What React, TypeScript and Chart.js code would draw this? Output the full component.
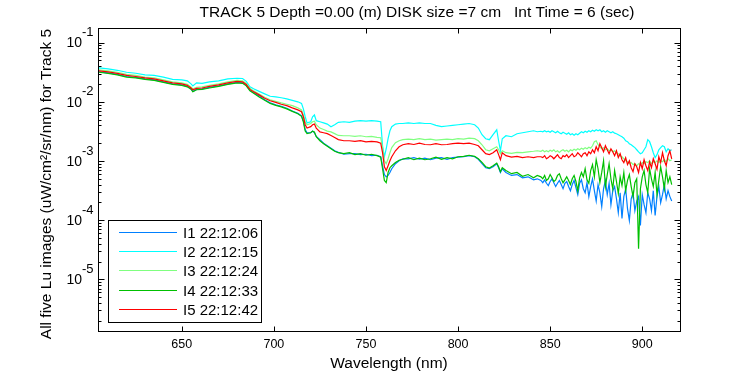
import React, { useEffect, useRef } from "react";
import { Chart, registerables } from "chart.js";

Chart.register(...registerables);

const TITLE = "TRACK 5 Depth =0.00 (m) DISK size =7 cm   Int Time = 6 (sec)";
const X_TITLE = "Wavelength (nm)";
const Y_TITLE = "All five Lu images (uW/cm²/sr/nm) for Track 5";
const X_TICKS = [650, 700, 750, 800, 850, 900];
const Y_TICK_EXPONENTS = [-6, -5, -4, -3, -2, -1];
const X_MIN = 604.5;
const X_MAX = 920.5;
const Y_MIN = 1.34e-6;
const Y_MAX = 0.17;

const SERIES_LABELS = ["I1 22:12:06", "I2 22:12:15", "I3 22:12:24", "I4 22:12:33", "I5 22:12:42"];
const SERIES_COLORS = ["#0080ff", "#00ffff", "#80ff80", "#00c000", "#ff0000"];

const WAVELENGTH = [
  605, 610, 615, 620, 625, 630, 635, 640, 645, 650, 653, 655, 656, 658, 661, 665, 670, 675, 680, 683, 685, 687, 689, 692, 695, 698,
  701, 704, 707, 710, 713, 715, 716, 717, 718, 720, 721, 722, 723, 725, 727, 729, 731, 733, 735, 738, 741, 744, 747, 750, 753, 756, 758,
  759, 760, 761, 762, 763, 764, 766, 768, 770,
  773, 776, 779, 782, 785, 788, 791, 794, 797, 800, 803, 806, 809, 811, 813, 815, 817, 819, 821, 822, 823, 824, 826, 829, 832, 835, 838, 841, 843,
  845, 846, 847, 848, 849, 850, 851, 852, 853, 854, 855, 856,
  857, 858, 859, 860, 861, 862, 863, 864, 865, 866, 867, 868,
  869, 870, 871, 872, 873, 874, 875, 876, 877, 878, 879, 880,
  881, 882, 883, 884, 885, 886, 887, 888, 889, 890, 891, 892,
  893, 894, 895, 896, 897, 898, 899, 900, 901, 902, 903, 904,
  905, 906, 907, 908, 909, 910, 911, 912, 913, 914, 915, 916,
];

const I1 = [
  0.0321, 0.0308, 0.0291, 0.0268, 0.0258, 0.0244, 0.0235, 0.0217, 0.0201, 0.0193, 0.0182, 0.0166, 0.015, 0.0162, 0.0166, 0.0175, 0.0186, 0.0201, 0.0213, 0.0209, 0.019, 0.0156, 0.0142, 0.0126, 0.0108, 0.0096,
  0.0089, 0.0084, 0.0078, 0.007, 0.0064, 0.0058, 0.0048, 0.0034, 0.003, 0.003, 0.0032, 0.003, 0.0026, 0.0023, 0.002, 0.00181, 0.00164, 0.00149, 0.0014, 0.0013, 0.00133, 0.00133, 0.00128, 0.0013, 0.00123, 0.00125, 0.00118,
  0.00083, 0.00059, 0.00054, 0.00057, 0.00064, 0.00074, 0.0009, 0.00101, 0.00109,
  0.00109, 0.00114, 0.00107, 0.00112, 0.00105, 0.00112, 0.00114, 0.00107, 0.00114, 0.00116, 0.00118, 0.00123, 0.00118, 0.00107, 0.0009, 0.00077, 0.00074, 0.0008, 0.0009, 0.00077, 0.00064, 0.00074, 0.00064, 0.00057, 0.00059, 0.00052, 0.00054, 0.00048, 0.0005,
  4.7e-4, 4.3e-4, 4.8e-4, 4.2e-4, 3.85e-4, 4.5e-4, 5.0e-4, 4.3e-4, 3.7e-4, 4.2e-4, 4.7e-4, 4.0e-4,
  3.4e-4, 4.2e-4, 4.5e-4, 3.7e-4, 3.15e-4, 4.0e-4, 4.7e-4, 3.55e-4, 2.7e-4, 4.2e-4, 4.8e-4, 3.4e-4,
  2.9e-4, 4.3e-4, 2.5e-4, 3.7e-4, 5.0e-4, 3.15e-4, 2.1e-4, 4.0e-4, 2.9e-4, 1.69e-4, 3.4e-4, 4.7e-4,
  2.7e-4, 4.2e-4, 1.83e-4, 3.15e-4, 3.7e-4, 2.3e-4, 1.34e-4, 2.9e-4, 1.07e-4, 2.5e-4, 3.4e-4, 1.57e-4,
  9.9e-5, 2.3e-4, 2.9e-4, 1.45e-4, 2.1e-4, 2.5e-4, 8.1e-5, 2.7e-4, 1.83e-4, 1.34e-4, 2.9e-4, 2.3e-4,
  1.45e-4, 3.15e-4, 1.2e-4, 2.5e-4, 3.7e-4, 1.98e-4, 2.7e-4, 4.0e-4, 2.3e-4, 3.15e-4, 2.5e-4, 2.1e-4,
];

const I2 = [
  0.0374, 0.036, 0.0341, 0.0316, 0.0304, 0.0285, 0.028, 0.0261, 0.0239, 0.0235, 0.0226, 0.0201, 0.0186, 0.0209, 0.0205, 0.0217, 0.0226, 0.0244, 0.025, 0.0248, 0.0222, 0.0179, 0.0166, 0.015, 0.0136, 0.0124,
  0.0121, 0.0117, 0.0112, 0.0106, 0.01, 0.0094, 0.0076, 0.0056, 0.0044, 0.0046, 0.0056, 0.006, 0.0048, 0.0046, 0.0044, 0.0042, 0.0038, 0.0041, 0.0045, 0.0046, 0.0045, 0.0047, 0.0048, 0.0047, 0.0048, 0.0047, 0.0046,
  0.00181, 0.00118, 0.00161, 0.00238, 0.00324, 0.0038, 0.0042, 0.0043, 0.0043,
  0.0044, 0.0043, 0.0044, 0.0043, 0.0043, 0.004, 0.0038, 0.0039, 0.004, 0.0041, 0.0042, 0.0043, 0.0041, 0.0036, 0.00278, 0.00238, 0.00229, 0.00278, 0.00337, 0.0022, 0.00149, 0.00238, 0.00267, 0.00257, 0.00289, 0.003, 0.00312, 0.00324, 0.00312,
  0.00318, 0.00312, 0.00324, 0.00312, 0.00318, 0.00306, 0.00324, 0.00312, 0.003, 0.00318, 0.003, 0.00289,
  0.00306, 0.00295, 0.00284, 0.003, 0.00278, 0.00289, 0.00272, 0.00289, 0.00278, 0.00295, 0.00312, 0.003,
  0.00318, 0.00306, 0.00324, 0.00312, 0.0033, 0.00318, 0.00337, 0.00324, 0.00337, 0.00312, 0.00324, 0.00306,
  0.00324, 0.00312, 0.003, 0.00312, 0.00295, 0.00289, 0.00278, 0.00267, 0.00257, 0.00243, 0.0022, 0.00212,
  0.00196, 0.00188, 0.00178, 0.00168, 0.00155, 0.00143, 0.00133, 0.00138, 0.00155, 0.00174, 0.00229, 0.00212,
  0.00174, 0.00138, 0.00114, 0.00128, 0.00155, 0.00168, 0.00181, 0.00174, 0.00143, 0.00161, 0.00149, 0.00155,
];

const I3 = [
  0.0347, 0.0334, 0.0316, 0.0291, 0.028, 0.0261, 0.0254, 0.0235, 0.0217, 0.0209, 0.0197, 0.0179, 0.0166, 0.0175, 0.0179, 0.019, 0.0201, 0.0217, 0.0231, 0.0226, 0.0205, 0.0169, 0.0153, 0.0136, 0.0119, 0.0108,
  0.0102, 0.0096, 0.0091, 0.0086, 0.0079, 0.0073, 0.006, 0.0046, 0.0041, 0.0043, 0.0046, 0.0047, 0.0041, 0.0036, 0.0034, 0.0032, 0.0031, 0.0029, 0.0027, 0.00267, 0.00267, 0.0026, 0.00267, 0.00257, 0.0026, 0.0025, 0.00247,
  0.00168, 0.00101, 0.0009, 0.00109, 0.00138, 0.00168, 0.00204, 0.0022, 0.00229,
  0.00234, 0.00229, 0.00238, 0.00229, 0.00234, 0.00225, 0.00229, 0.00234, 0.00229, 0.00238, 0.00234, 0.00243, 0.00238, 0.0022, 0.00188, 0.00155, 0.00149, 0.00161, 0.00174, 0.00155, 0.00133, 0.00149, 0.00138, 0.00135, 0.0014, 0.00138, 0.00143, 0.00146, 0.00149,
  0.00146, 0.00152, 0.00143, 0.00149, 0.00143, 0.00152, 0.00146, 0.00155, 0.00143, 0.00149, 0.0014, 0.00149,
  0.00155, 0.00146, 0.00152, 0.00143, 0.00155, 0.00149, 0.00158, 0.00152, 0.00161, 0.00155, 0.00165, 0.00158,
  0.00168, 0.00161, 0.00171, 0.00165, 0.00181, 0.00212, 0.0022, 0.00188, 0.00174, 0.00161, 0.00168, 0.00155,
  0.00161, 0.00149, 0.00155, 0.00143, 0.00149, 0.00138, 0.00133, 0.00123, 0.00118, 0.00109, 0.00101, 0.00097,
  0.0009, 0.00094, 0.00087, 0.0009, 0.00083, 0.0009, 0.00087, 0.00094, 0.0009, 0.00097, 0.00094, 0.00101,
  0.0009, 0.00097, 0.00094, 0.00101, 0.00094, 0.00101, 0.00097, 0.00105, 0.00097, 0.00109, 0.00101, 0.00105,
];

const I4 = [
  0.0316, 0.0303, 0.0285, 0.0261, 0.0254, 0.0239, 0.023, 0.0213, 0.0197, 0.019, 0.0179, 0.0163, 0.0148, 0.016, 0.0162, 0.0171, 0.0182, 0.0197, 0.0209, 0.0205, 0.0186, 0.0153, 0.014, 0.0121, 0.0106, 0.0094,
  0.0087, 0.0082, 0.0076, 0.0069, 0.0063, 0.0057, 0.0046, 0.0032, 0.0029, 0.003, 0.0032, 0.0031, 0.00257, 0.0022, 0.00196, 0.00178, 0.00161, 0.00146, 0.00138, 0.00133, 0.00138, 0.00128, 0.00133, 0.00125, 0.0013, 0.00123, 0.00116,
  0.00074, 0.00047, 0.00043, 0.00064, 0.00077, 0.00083, 0.00094, 0.00103, 0.00107,
  0.00114, 0.00105, 0.00112, 0.00105, 0.00109, 0.00116, 0.00107, 0.00114, 0.00109, 0.00118, 0.0012, 0.00125, 0.0012, 0.00109, 0.00095, 0.0008, 0.00076, 0.00083, 0.00092, 0.0008, 0.00066, 0.00077, 0.00069, 0.00061, 0.00064, 0.00055, 0.00059, 0.00052, 0.00057,
  5.4e-4, 5.0e-4, 5.7e-4, 4.7e-4, 5.0e-4, 5.9e-4, 5.2e-4, 4.5e-4, 4.8e-4, 5.7e-4, 6.1e-4, 5.0e-4,
  4.3e-4, 4.8e-4, 5.4e-4, 4.7e-4, 4.0e-4, 5.0e-4, 5.7e-4, 4.5e-4, 3.15e-4, 5.2e-4, 6.4e-4, 5.4e-4,
  7.4e-4, 4.8e-4, 4.2e-4, 6.9e-4, 8.7e-4, 5.4e-4, 1.05e-3, 7.4e-4, 4.3e-4, 6.4e-4, 1.01e-3, 3.7e-4,
  5.9e-4, 9.0e-4, 5.0e-4, 3.4e-4, 6.9e-4, 4.5e-4, 2.8e-4, 5.4e-4, 3.85e-4, 6.4e-4, 3.15e-4, 4.7e-4,
  5.9e-4, 3.7e-4, 2.5e-4, 4.3e-4, 5.0e-4, 3.3e-5, 3.4e-4, 5.4e-4, 6.9e-4, 4.0e-4, 2.9e-4, 7.4e-4,
  5.0e-4, 3.7e-4, 6.4e-4, 2.7e-4, 4.7e-4, 8.0e-4, 5.4e-4, 3.4e-4, 6.9e-4, 4.3e-4, 5.4e-4, 4.0e-4,
];

const I5 = [
  0.0334, 0.0321, 0.0303, 0.028, 0.0268, 0.0254, 0.0244, 0.0226, 0.0209, 0.0201, 0.019, 0.0171, 0.016, 0.0169, 0.0171, 0.0182, 0.0193, 0.0209, 0.0222, 0.0217, 0.0196, 0.0162, 0.0148, 0.0131, 0.0115, 0.0104,
  0.0098, 0.0091, 0.0086, 0.0079, 0.0073, 0.0068, 0.0056, 0.0041, 0.0036, 0.0038, 0.0041, 0.0042, 0.0036, 0.0031, 0.003, 0.0029, 0.0027, 0.0025, 0.0023, 0.0022, 0.0022, 0.00215, 0.0022, 0.0021, 0.00215, 0.0021, 0.002,
  0.00138, 0.0008, 0.00069, 0.00083, 0.00101, 0.00118, 0.00149, 0.00174, 0.00188,
  0.00196, 0.0019, 0.002, 0.0019, 0.00188, 0.00196, 0.00188, 0.0019, 0.00196, 0.002, 0.00196, 0.002, 0.0019, 0.00181, 0.00155, 0.00133, 0.00128, 0.00138, 0.00155, 0.00128, 0.00105, 0.00138, 0.00123, 0.00116, 0.0012, 0.00114, 0.00118, 0.00114, 0.00118,
  0.00118, 0.00114, 0.00123, 0.00109, 0.00114, 0.00123, 0.00118, 0.00109, 0.00118, 0.00128, 0.00114, 0.00109,
  0.00123, 0.00118, 0.00128, 0.00114, 0.00123, 0.00133, 0.00118, 0.00123, 0.00138, 0.00128, 0.00118, 0.00133,
  0.00138, 0.00123, 0.00143, 0.00133, 0.00155, 0.00138, 0.00174, 0.00149, 0.00196, 0.00168, 0.00143, 0.00181,
  0.00155, 0.00133, 0.00161, 0.00143, 0.00123, 0.00149, 0.00114, 0.00133, 0.00105, 0.00094, 0.00114, 0.00087,
  0.00101, 0.00077, 0.00066, 0.0009, 0.0008, 0.00064, 0.00094, 0.00074, 0.00105, 0.00083, 0.00069, 0.00097,
  0.00077, 0.00109, 0.0009, 0.00072, 0.00118, 0.00094, 0.00138, 0.00101, 0.00083, 0.00123, 0.00149, 0.00109,
];

const SERIES = [I1, I2, I3, I4, I5];
const MINOR_MULTIPLIERS = [2, 3, 4, 5, 6, 7, 8, 9];
const FONT = "'Liberation Sans', Arial, Helvetica, sans-serif";

const matlabAxes = {
  id: "matlabAxes",
  afterDraw(chart: any) {
    const { ctx, chartArea: a, scales } = chart;
    const xs = scales.x;
    const ys = scales.y;
    const L = a.left + 0.5;
    const R = a.right + 0.5;
    const T = a.top - 0.5;
    const B = a.bottom + 0.5;
    ctx.save();
    ctx.strokeStyle = "#000";
    ctx.lineWidth = 1;
    ctx.strokeRect(L, T, R - L, B - T);

    ctx.beginPath();
    X_TICKS.forEach((v) => {
      const px = Math.round(xs.getPixelForValue(v)) + 0.5;
      ctx.moveTo(px, B);
      ctx.lineTo(px, B - 5);
      ctx.moveTo(px, T);
      ctx.lineTo(px, T + 5);
    });
    Y_TICK_EXPONENTS.forEach((e) => {
      [1, ...MINOR_MULTIPLIERS].forEach((m) => {
        const v = m * Math.pow(10, e);
        if (v < Y_MIN || v > Y_MAX) return;
        const py = Math.round(ys.getPixelForValue(v)) + 0.5;
        const len = m === 1 ? 6 : 3;
        ctx.moveTo(L, py);
        ctx.lineTo(L + len, py);
        ctx.moveTo(R, py);
        ctx.lineTo(R - len, py);
      });
    });
    ctx.stroke();

    ctx.fillStyle = "#000";
    ctx.font = `12.5px ${FONT}`;
    ctx.textAlign = "center";
    ctx.textBaseline = "middle";
    X_TICKS.forEach((v) => {
      ctx.fillText(String(v), xs.getPixelForValue(v), a.bottom + 14);
    });

    Y_TICK_EXPONENTS.forEach((e) => {
      const v = Math.pow(10, e);
      if (v < Y_MIN || v > Y_MAX) return;
      const py = ys.getPixelForValue(v);
      ctx.font = `14px ${FONT}`;
      ctx.textAlign = "right";
      ctx.textBaseline = "middle";
      ctx.fillText("10", a.left - 16, py + 1);
      ctx.font = `13px ${FONT}`;
      ctx.textAlign = "left";
      ctx.fillText(String(e), a.left - 16, py - 10);
    });

    ctx.font = `15.5px ${FONT}`;
    ctx.textAlign = "center";
    ctx.textBaseline = "middle";
    ctx.fillText(TITLE, 417, 12.5);
    ctx.fillText(X_TITLE, (a.left + a.right) / 2, 364);
    ctx.save();
    ctx.translate(47, 184);
    ctx.rotate(-Math.PI / 2);
    ctx.fillText(Y_TITLE, 0, 0);
    ctx.restore();

    const lx = 108.5, ly = 220.5, lw = 153, lh = 102;
    ctx.fillStyle = "#fff";
    ctx.fillRect(lx, ly, lw, lh);
    ctx.strokeStyle = "#000";
    ctx.strokeRect(lx, ly, lw, lh);
    ctx.font = `15px ${FONT}`;
    ctx.textAlign = "left";
    ctx.textBaseline = "middle";
    chart.data.datasets.forEach((ds: any, i: number) => {
      const ry = Math.round(232 + i * 19.2) + 0.5;
      ctx.strokeStyle = ds.borderColor;
      ctx.beginPath();
      ctx.moveTo(119, ry);
      ctx.lineTo(177, ry);
      ctx.stroke();
      ctx.fillStyle = "#000";
      ctx.fillText(ds.label, 183, ry + 1);
    });
    ctx.restore();
  },
};

export default function App() {
  const ref = useRef<HTMLCanvasElement>(null);
  useEffect(() => {
    document.body.style.margin = "0";
    const datasets = SERIES.map((vals, i) => ({
      label: SERIES_LABELS[i],
      data: WAVELENGTH.map((x, j) => ({ x, y: vals[j] })),
      borderColor: SERIES_COLORS[i],
      backgroundColor: SERIES_COLORS[i],
      borderWidth: 1.2,
      pointRadius: 0,
      fill: false,
      tension: 0,
      order: SERIES.length - i,
    }));
    const chart = new Chart(ref.current as HTMLCanvasElement, {
      type: "line",
      data: { datasets },
      options: {
        animation: false,
        responsive: false,
        devicePixelRatio: 1,
        events: [],
        layout: { padding: { left: 98, right: 70, top: 29, bottom: 44 } },
        plugins: {
          legend: { display: false },
          title: { display: false },
          tooltip: { enabled: false },
        },
        scales: {
          x: { type: "linear", display: false, min: X_MIN, max: X_MAX },
          y: { type: "logarithmic", display: false, min: Y_MIN, max: Y_MAX },
        },
      },
      plugins: [matlabAxes],
    } as any);
    return () => chart.destroy();
  }, []);
  return (
    <div style={{ position: "absolute", left: 0, top: 0, width: 750, height: 375, background: "#fff" }}>
      <canvas ref={ref} width={750} height={375} style={{ display: "block", width: 750, height: 375 }} />
    </div>
  );
}
